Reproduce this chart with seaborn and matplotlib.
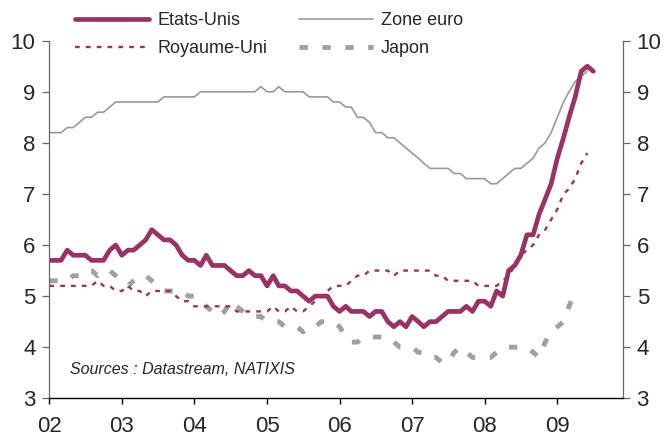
import pandas as pd
import numpy as np
import matplotlib
matplotlib.use("Agg")
import matplotlib.pyplot as plt
import matplotlib.dates as mdates
from matplotlib.lines import Line2D
import seaborn as sns

# Taux de chomage mensuel, janvier 2002 -> juillet 2009 (%)
etats_unis = [
    5.7, 5.7, 5.7, 5.9, 5.8, 5.8, 5.8, 5.7, 5.7, 5.7, 5.9, 6.0,
    5.8, 5.9, 5.9, 6.0, 6.1, 6.3, 6.2, 6.1, 6.1, 6.0, 5.8, 5.7,
    5.7, 5.6, 5.8, 5.6, 5.6, 5.6, 5.5, 5.4, 5.4, 5.5, 5.4, 5.4,
    5.2, 5.4, 5.2, 5.2, 5.1, 5.1, 5.0, 4.9, 5.0, 5.0, 5.0, 4.8,
    4.7, 4.8, 4.7, 4.7, 4.7, 4.6, 4.7, 4.7, 4.5, 4.4, 4.5, 4.4,
    4.6, 4.5, 4.4, 4.5, 4.5, 4.6, 4.7, 4.7, 4.7, 4.8, 4.7, 4.9,
    4.9, 4.8, 5.1, 5.0, 5.5, 5.6, 5.8, 6.2, 6.2, 6.6, 6.9, 7.2,
    7.7, 8.1, 8.5, 8.9, 9.4, 9.5, 9.4,
]
zone_euro = [
    8.2, 8.2, 8.2, 8.3, 8.3, 8.4, 8.5, 8.5, 8.6, 8.6, 8.7, 8.8,
    8.8, 8.8, 8.8, 8.8, 8.8, 8.8, 8.8, 8.9, 8.9, 8.9, 8.9, 8.9,
    8.9, 9.0, 9.0, 9.0, 9.0, 9.0, 9.0, 9.0, 9.0, 9.0, 9.0, 9.1,
    9.0, 9.0, 9.1, 9.0, 9.0, 9.0, 9.0, 8.9, 8.9, 8.9, 8.9, 8.8,
    8.8, 8.7, 8.7, 8.5, 8.5, 8.4, 8.2, 8.2, 8.1, 8.1, 8.0, 7.9,
    7.8, 7.7, 7.6, 7.5, 7.5, 7.5, 7.5, 7.4, 7.4, 7.3, 7.3, 7.3,
    7.3, 7.2, 7.2, 7.3, 7.4, 7.5, 7.5, 7.6, 7.7, 7.9, 8.0, 8.2,
    8.5, 8.8, 9.0, 9.2, 9.3, 9.4,
]
royaume_uni = [
    5.2, 5.2, 5.2, 5.2, 5.2, 5.2, 5.2, 5.2, 5.3, 5.2, 5.2, 5.1,
    5.1, 5.2, 5.1, 5.1, 5.0, 5.1, 5.1, 5.1, 5.1, 5.0, 4.9, 4.9,
    4.8, 4.8, 4.8, 4.8, 4.8, 4.8, 4.8, 4.7, 4.7, 4.7, 4.7, 4.7,
    4.7, 4.8, 4.7, 4.7, 4.8, 4.7, 4.7, 4.8, 4.9, 5.0, 5.1, 5.2,
    5.2, 5.2, 5.3, 5.4, 5.4, 5.5, 5.5, 5.5, 5.5, 5.4, 5.5, 5.5,
    5.5, 5.5, 5.5, 5.5, 5.4, 5.4, 5.3, 5.3, 5.3, 5.3, 5.3, 5.2,
    5.2, 5.2, 5.2, 5.3, 5.4, 5.6, 5.8, 5.9, 6.0, 6.2, 6.3, 6.5,
    6.7, 7.0, 7.1, 7.3, 7.6, 7.8,
]
japon = [
    5.3, 5.3, 5.3, 5.3, 5.4, 5.4, 5.5, 5.5, 5.4, 5.5, 5.5, 5.4,
    5.3, 5.2, 5.3, 5.4, 5.4, 5.3, 5.2, 5.1, 5.1, 5.1, 5.1, 5.0,
    5.0, 4.9, 4.8, 4.7, 4.6, 4.7, 4.9, 4.8, 4.7, 4.6, 4.6, 4.6,
    4.5, 4.5, 4.5, 4.4, 4.4, 4.4, 4.3, 4.4, 4.4, 4.5, 4.5, 4.5,
    4.4, 4.2, 4.1, 4.1, 4.2, 4.2, 4.2, 4.2, 4.2, 4.1, 4.0, 4.0,
    4.0, 3.9, 3.9, 3.8, 3.8, 3.7, 3.7, 3.9, 4.0, 3.9, 3.8, 3.8,
    3.8, 3.8, 3.9, 4.0, 4.0, 4.0, 4.0, 4.0, 3.9, 3.8, 4.1, 4.3,
    4.4, 4.5, 4.8, 5.1,
]

series_names = ["Etats-Unis", "Zone euro", "Royaume-Uni", "Japon"]
y_ticks = [3, 4, 5, 6, 7, 8, 9, 10]

mois = pd.date_range("2002-01-01", periods=len(etats_unis), freq="MS")

def to_df(vals):
    return pd.DataFrame({"date": mois[:len(vals)], "taux": vals})

# styles (px -> pt at dpi 100 : x 0.72)
magenta = "#993366"
gris = "#999999"
styles = {
    "Japon": dict(color="#A0A0A0", linewidth=3.5, linestyle=(0, (6.0, 10.5))),
    "Royaume-Uni": dict(color=magenta, linewidth=1.7, linestyle=(0, (3.4, 4.4))),
    "Zone euro": dict(color=gris, linewidth=1.2, linestyle="-"),
    "Etats-Unis": dict(color=magenta, linewidth=3.4, linestyle="-"),
}
data = {"Etats-Unis": etats_unis, "Zone euro": zone_euro,
        "Royaume-Uni": royaume_uni, "Japon": japon}

sns.set_style("white")
plt.rcParams["font.family"] = ["Liberation Sans", "DejaVu Sans"]
plt.rcParams["lines.scale_dashes"] = False

fig = plt.figure(figsize=(6.63, 4.37), dpi=100)
ax = fig.add_axes([0.0744, 0.0886, 0.8648, 0.8183])

for name in ["Japon", "Royaume-Uni", "Zone euro", "Etats-Unis"]:
    sns.lineplot(data=to_df(data[name]), x="date", y="taux", ax=ax,
                 legend=False, **styles[name])

ax.set_xlim(pd.Timestamp("2002-01-01"), pd.Timestamp("2009-11-26"))
ax.set_ylim(3, 10)
ax.set_yticks(y_ticks)
ax.xaxis.set_major_locator(mdates.YearLocator())
ax.xaxis.set_major_formatter(mdates.DateFormatter("%y"))
ax.set_xlabel("")
ax.set_ylabel("")

for side in ["left", "right"]:
    ax.spines[side].set_visible(True)
    ax.spines[side].set_color("#666666")
    ax.spines[side].set_linewidth(0.9)
ax.spines["bottom"].set_color("black")
ax.spines["bottom"].set_linewidth(1.0)
ax.spines["top"].set_visible(False)

ax.tick_params(axis="y", which="both", left=True, right=True, labelleft=True,
               labelright=True, direction="out", length=5, width=0.9,
               color="#666666", labelsize=16, pad=5)
ax.tick_params(axis="x", bottom=True, direction="out", length=4.5, width=1.0,
               color="black", labelsize=16, pad=8)

handles = [Line2D([], [], **styles[n]) for n in
           ["Etats-Unis", "Royaume-Uni", "Zone euro", "Japon"]]
labels = ["Etats-Unis", "Royaume-Uni", "Zone euro", "Japon"]
fig.legend(handles, labels, ncol=2, loc="upper left",
           bbox_to_anchor=(0.113, 0.972), frameon=False, fontsize=13,
           handlelength=4.1, handletextpad=0.45, columnspacing=1.75,
           labelspacing=0.6, borderpad=0, borderaxespad=0)

fig.text(70 / 663, 1 - 370 / 437, "Sources : Datastream, NATIXIS",
         fontsize=11.5, style="italic", va="center", ha="left")

fig.savefig("out.png", dpi=100)
